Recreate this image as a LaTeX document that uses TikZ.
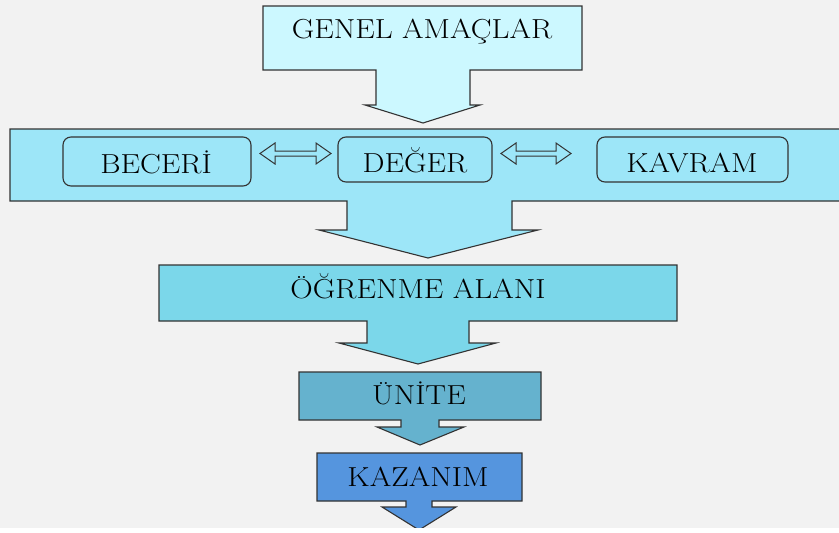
\documentclass[tikz,border=0pt]{standalone}
\usepackage{fontspec}
\setmainfont{Latin Modern Roman}[FakeStretch=1.13]
\begin{document}
\begin{tikzpicture}[x=1pt,y=-1pt,
  blk/.style={draw=black!80, line width=1.1pt, line join=miter},
  lbl/.style={anchor=base, inner sep=0pt, font=\fontsize{27.5}{33}\selectfont},
  rbox/.style={draw=black!80, line width=1.1pt, rounded corners=8pt},
  dbl/.style={draw=black!80, line width=1pt, fill=c2}]
\definecolor{bg}{HTML}{F2F2F2}
\definecolor{c1}{HTML}{CCF8FF}
\definecolor{c2}{HTML}{9DE6F8}
\definecolor{c3}{HTML}{7BD7EA}
\definecolor{c4}{HTML}{65B2CE}
\definecolor{c5}{HTML}{5595DE}
\useasboundingbox (0,0) rectangle (839,533);
\fill[bg] (0,0) rectangle (839,528);
% block arrow 1
\draw[blk, fill=c1] (263,6)--(582,6)--(582,70)--(470,70)--(470,105)--(480,105)--(423,123)--(365,105)--(376,105)--(376,70)--(263,70)--cycle;
\node[lbl] (genel) at (422,38) {GENEL AMAÇLAR};
% band 2
\begin{scope}
\clip (0,0) rectangle (839,533);
\draw[blk, fill=c2] (10,129)--(850,129)--(850,201)--(512,201)--(512,230)--(538,230)--(428,258)--(319,230)--(347,230)--(347,201)--(10,201)--cycle;
\end{scope}
\draw[rbox] (63,137) rectangle (251,186);
\draw[rbox] (338,137) rectangle (492,182);
\draw[rbox] (597,137) rectangle (788,182);
\node[lbl] (beceri) at (156,173) {BECERİ};
\node[lbl] (deger) at (415,172) {DEĞER};
\node[lbl] (kavram) at (692,172) {KAVRAM};
% double arrows
\draw[dbl] (260,153.5)--(275,143)--(275,151)--(316,151)--(316,143)--(331,153.5)--(316,164)--(316,156)--(275,156)--(275,164)--cycle;
\draw[dbl] (501,153.5)--(516,143)--(516,151)--(556,151)--(556,143)--(571,153.5)--(556,164)--(556,156)--(516,156)--(516,164)--cycle;
% block arrow 3
\draw[blk, fill=c3] (159,265)--(677,265)--(677,321)--(469,321)--(469,343)--(496,343)--(418,364)--(339,343)--(367,343)--(367,321)--(159,321)--cycle;
\node[lbl] (alan) at (418,298) {ÖĞRENME ALANI};
% block arrow 4
\draw[blk, fill=c4] (299,372)--(541,372)--(541,420)--(439,420)--(439,427)--(464,427)--(420,445)--(377,427)--(401,427)--(401,420)--(299,420)--cycle;
\node[lbl] (unite) at (419,404) {ÜNİTE};
% block arrow 5
\draw[blk, fill=c5] (317,453)--(522,453)--(522,501)--(432,501)--(432,507)--(456,507)--(419,530)--(382,507)--(406,507)--(406,501)--(317,501)--cycle;
\node[lbl] (kazanim) at (418,486) {KAZANIM};
\fill[white] (0,528) rectangle (839,533);
\end{tikzpicture}
\end{document}
